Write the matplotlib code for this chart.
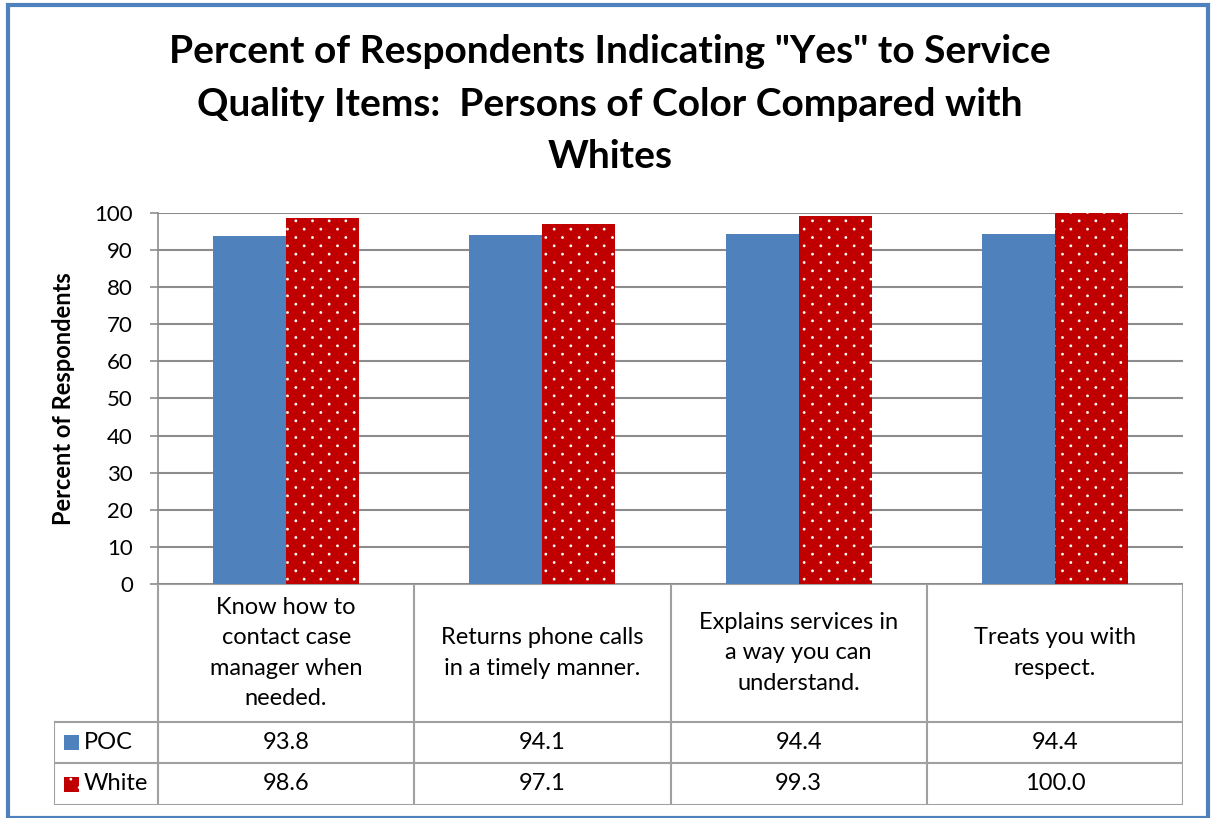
import numpy as np
import matplotlib
matplotlib.use("Agg")
import matplotlib.pyplot as plt
import matplotlib.hatch as mhatch
from matplotlib.path import Path
from matplotlib.patches import Rectangle

# data
categories = [
    "Know how to\ncontact case\nmanager when\nneeded.",
    "Returns phone calls\nin a timely manner.",
    "Explains services in\na way you can\nunderstand.",
    "Treats you with\nrespect.",
]
series_names = ["POC", "White"]
poc = [93.8, 94.1, 94.4, 94.4]
white = [98.6, 97.1, 99.3, 100.0]
yticks = [0, 10, 20, 30, 40, 50, 60, 70, 80, 90, 100]

BLUE = "#4F81BD"
RED = "#C00000"
GRID = "#8C8C8C"
TABLE_LINE = "#A0A0A0"


class StaggeredDots(mhatch.HatchPatternBase):
    """Small dots, rows twice as dense as columns, every other row shifted."""

    def __init__(self, hatch, density):
        n = hatch.count(".")
        self.cols = 6 * n
        self.rows = 12 * n
        self.radius = 0.014
        self.circle = Path.unit_circle()
        self.num_vertices = self.rows * self.cols * len(self.circle.vertices)

    def set_vertices_and_codes(self, vertices, codes):
        nv = len(self.circle.vertices)
        base = self.circle.vertices * self.radius
        cur = 0
        for r in range(self.rows):
            y = (r + 0.5) / self.rows
            for c in range(self.cols):
                xx = (c + 0.25 + 0.5 * (r % 2)) / self.cols
                vertices[cur:cur + nv] = base + [xx, y]
                codes[cur:cur + nv] = self.circle.codes
                cur += nv


mhatch._hatch_types = [StaggeredDots if t is mhatch.SmallFilledCircles else t
                       for t in mhatch._hatch_types]

plt.rcParams["font.family"] = ["Lato", "DejaVu Sans"]
plt.rcParams["hatch.linewidth"] = 0.0

W, H = 1216, 818
fig = plt.figure(figsize=(W / 100, H / 100), dpi=100)


def px_rect(x0, y0, x1, y1):
    # pixel box (top-left origin) -> figure fraction
    return [x0 / W, 1 - y1 / H, (x1 - x0) / W, (y1 - y0) / H]


# figure border
fig.patches.append(Rectangle((8 / W, 0.0), (1208 - 8) / W, 1 - 5 / H,
                             transform=fig.transFigure, fill=False,
                             edgecolor=BLUE, linewidth=3))

fig.text(610 / W, 1 - 104 / H,
         'Percent of Respondents Indicating "Yes" to Service\n'
         'Quality Items:  Persons of Color Compared with\nWhites',
         ha="center", va="center", fontsize=28, fontweight="bold",
         linespacing=1.6)

# bar chart
ax = fig.add_axes(px_rect(158, 213, 1183, 584))
x = np.arange(len(categories))
bw = 0.285
ax.bar(x - bw / 2, poc, bw, color=BLUE, zorder=3)
ax.bar(x + bw / 2, white, bw, color=RED, hatch=".", edgecolor="white",
       linewidth=0, zorder=3)
ax.set_xlim(-0.5, len(categories) - 0.5)
ax.set_ylim(0, 100)
ax.set_yticks(yticks)
ax.tick_params(axis="y", labelsize=16, length=6, color=GRID, width=1.2,
               pad=12)
ax.set_xticks([])
ax.yaxis.grid(True, color=GRID, linewidth=1.5, zorder=0)
for s in ["top", "right", "bottom"]:
    ax.spines[s].set_visible(False)
ax.spines["left"].set_color(GRID)
ax.spines["left"].set_linewidth(1.2)
ax.set_ylabel("Percent of Respondents", fontsize=17, fontweight="bold",
              labelpad=14)

# data table
unit_px = (1183 - 158) / len(categories)
left_units = (158 - 54) / unit_px
tab = fig.add_axes(px_rect(54, 584, 1183, 805))
tab.set_xlim(-0.5 - left_units, len(categories) - 0.5)
tab.set_ylim(805, 584)
tab.axis("off")
lw = 1.5
row_y = [584, 722, 763, 805]
tab.plot([-0.5, len(categories) - 0.5], [584, 584], color=TABLE_LINE, lw=lw)
for yy in row_y[1:]:
    tab.plot([-0.5 - left_units, len(categories) - 0.5], [yy, yy],
             color=TABLE_LINE, lw=lw)
tab.plot([-0.5 - left_units] * 2, [722, 805], color=TABLE_LINE, lw=lw)
for i in range(len(categories) + 1):
    tab.plot([i - 0.5] * 2, [584, 805], color=TABLE_LINE, lw=lw)

for i, cat in enumerate(categories):
    tab.text(i, 653, cat, ha="center", va="center", fontsize=17,
             linespacing=1.55)
    tab.text(i, 742.5, f"{poc[i]:.1f}", ha="center", va="center", fontsize=17)
    tab.text(i, 784, f"{white[i]:.1f}", ha="center", va="center", fontsize=17)

# legend keys in table
keyw = (79 - 64) / unit_px
kx = -0.5 - left_units + (64 - 54) / unit_px
tab.add_patch(Rectangle((kx, 735), keyw, 15, facecolor=BLUE, linewidth=0))
tab.add_patch(Rectangle((kx, 777), keyw, 15, facecolor=RED, hatch=".",
                        edgecolor="white", linewidth=0))
tab.text(kx + keyw * 1.3, 742.5, series_names[0], ha="left", va="center",
         fontsize=17)
tab.text(kx + keyw * 1.3, 784, series_names[1], ha="left", va="center",
         fontsize=17)

fig.savefig("out.png", dpi=100)
